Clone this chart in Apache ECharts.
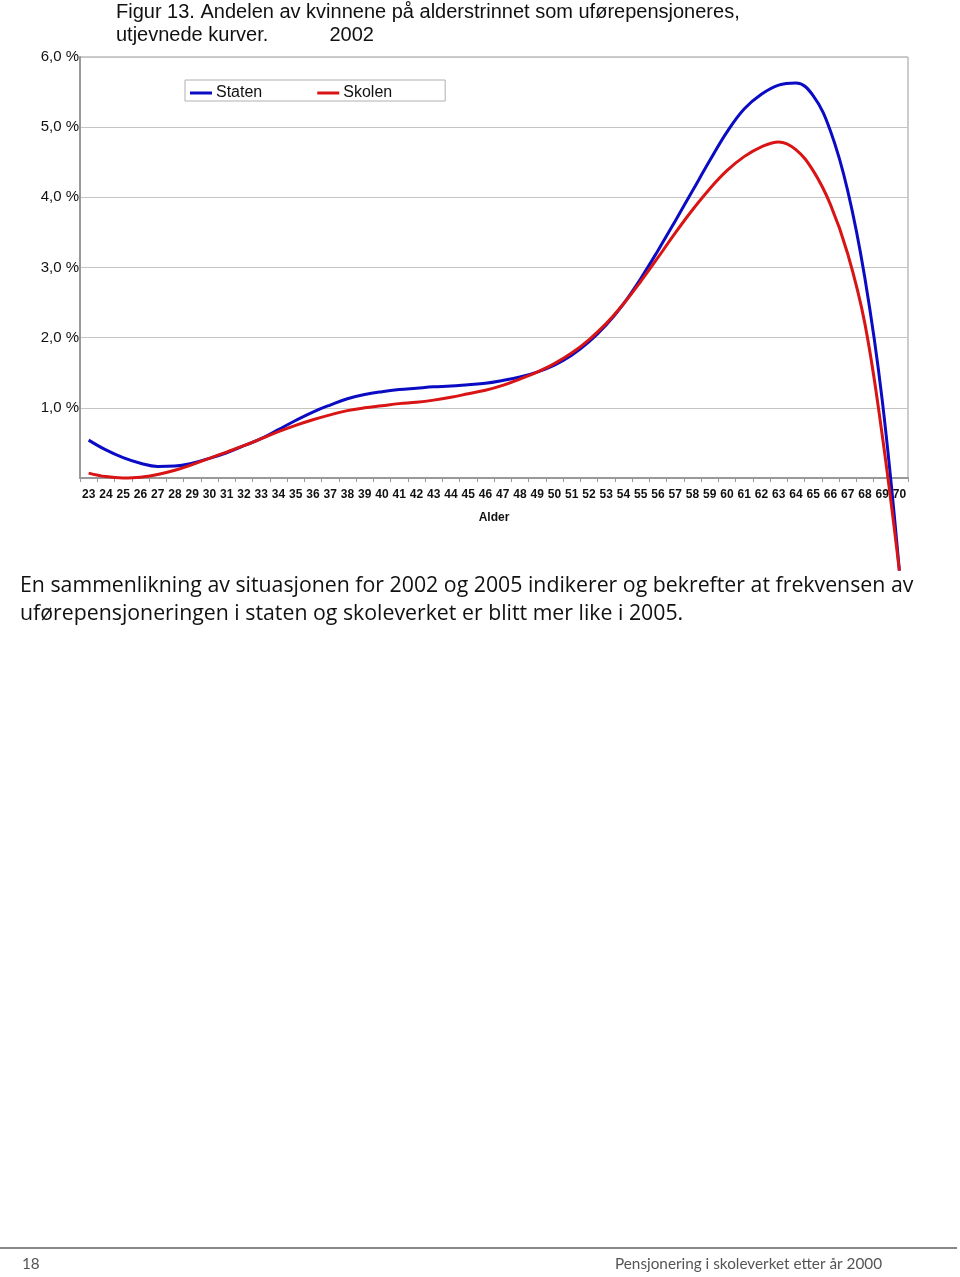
<!DOCTYPE html>
<html>
<head>
<meta charset="utf-8">
<script src="https://cdn.jsdelivr.net/npm/echarts@6/dist/echarts.min.js"></script>
<style>
html,body{margin:0;padding:0;background:#fff;}
#c{width:960px;height:1277px;}
</style>
</head>
<body>
<div id="c"></div>
<script>
const ages = ['23','24','25','26','27','28','29','30','31','32','33','34','35','36','37','38','39','40','41','42','43','44','45','46','47','48','49','50','51','52','53','54','55','56','57','58','59','60','61','62','63','64','65','66','67','68','69','70'];
const staten = [0.54,0.40,0.29,0.21,0.165,0.17,0.21,0.28,0.36,0.46,0.56,0.69,0.82,0.94,1.04,1.13,1.19,1.23,1.26,1.28,1.30,1.31,1.33,1.35,1.39,1.44,1.51,1.61,1.75,1.94,2.18,2.48,2.84,3.24,3.66,4.09,4.52,4.93,5.26,5.47,5.60,5.63,5.45,4.95,4.10,2.85,1.12,-1.32];
const skolen = [0.07,0.02,0.00,0.01,0.05,0.11,0.19,0.28,0.37,0.46,0.56,0.66,0.75,0.83,0.90,0.96,1.00,1.03,1.06,1.08,1.11,1.15,1.20,1.25,1.32,1.41,1.51,1.63,1.78,1.97,2.20,2.48,2.80,3.14,3.49,3.82,4.12,4.38,4.58,4.72,4.79,4.68,4.38,3.90,3.20,2.20,0.62,-1.32];
const yTicks = [0,1,2,3,4,5,6];

const chart = echarts.init(document.getElementById('c'), null, {renderer:'canvas'});
chart.setOption({
  animation:false,
  backgroundColor:'#fff',
  title:{
    text:'Figur 13. Andelen av kvinnene på alderstrinnet som uførepensjoneres,\nutjevnede kurver.           2002',
    left:116, top:1, padding:0,
    textStyle:{fontFamily:'Liberation Sans, Arial, sans-serif', fontSize:20, fontWeight:'normal', color:'#111', lineHeight:23}
  },
  legend:{
    left:185, top:80,
    padding:[5,53,0,5],
    itemGap:55, itemWidth:22, itemHeight:3,
    icon:'rect',
    borderColor:'#b0b0b0', borderWidth:1, backgroundColor:'#fff',
    textStyle:{fontFamily:'Liberation Sans, Arial, sans-serif', fontSize:16, lineHeight:15, color:'#111', padding:[0,0,0,-1]},
    data:['Staten','Skolen']
  },
  grid:{left:80, right:52, top:57, bottom:799, show:true, borderColor:'#999', borderWidth:1, containLabel:false},
  xAxis:{
    type:'category', data:ages, boundaryGap:true,
    name:'Alder', nameLocation:'middle', nameGap:34,
    nameTextStyle:{fontFamily:'Liberation Sans, Arial, sans-serif', fontSize:12, fontWeight:'bold', color:'#111'},
    axisLine:{lineStyle:{color:'#999', width:2}},
    axisTick:{show:true, length:4, lineStyle:{color:'#999'}},
    axisLabel:{interval:0, margin:11, fontFamily:'Liberation Sans, Arial, sans-serif', fontSize:12, fontWeight:'bold', color:'#111'}
  },
  yAxis:{
    type:'value', min:yTicks[0], max:yTicks[yTicks.length-1], interval:1,
    axisLine:{show:true, lineStyle:{color:'#999', width:2}},
    axisTick:{show:false},
    splitLine:{lineStyle:{color:'#c4c4c4', width:1}},
    axisLabel:{margin:1, fontFamily:'Liberation Sans, Arial, sans-serif', fontSize:15, color:'#111',
      formatter:function(v){ return v===0 ? '' : v.toFixed(1).replace('.',',')+' %'; }}
  },
  series:[
    {name:'Staten', type:'line', data:staten, smooth:0.4, symbol:'none', clip:false,
     lineStyle:{color:'#0b0bc4', width:3}, itemStyle:{color:'#0b0bc4'}},
    {name:'Skolen', type:'line', data:skolen, smooth:0.4, symbol:'none', clip:false,
     lineStyle:{color:'#d81414', width:3}, itemStyle:{color:'#d81414'}}
  ],
  graphic:[
    {type:'text', style:{x:20, y:586, verticalAlign:'middle', text:'En sammenlikning av situasjonen for 2002 og 2005 indikerer og bekrefter at frekvensen av', font:'21.3px "Open Sans", sans-serif', fill:'#111'}},
    {type:'text', style:{x:20, y:614, verticalAlign:'middle', text:'uførepensjoneringen i staten og skoleverket er blitt mer like i 2005.', font:'21.3px "Open Sans", sans-serif', fill:'#111'}},
    {type:'rect', shape:{x:0, y:1247, width:957, height:2}, style:{fill:'#888'}},
    {type:'text', style:{x:22, y:1264, verticalAlign:'middle', text:'18', font:'15.3px Lato, "Open Sans", sans-serif', fill:'#555'}},
    {type:'text', style:{x:882, y:1264, align:'right', verticalAlign:'middle', text:'Pensjonering i skoleverket etter år 2000', font:'15.3px Lato, "Open Sans", sans-serif', fill:'#555'}}
  ]
});
</script>
</body>
</html>
